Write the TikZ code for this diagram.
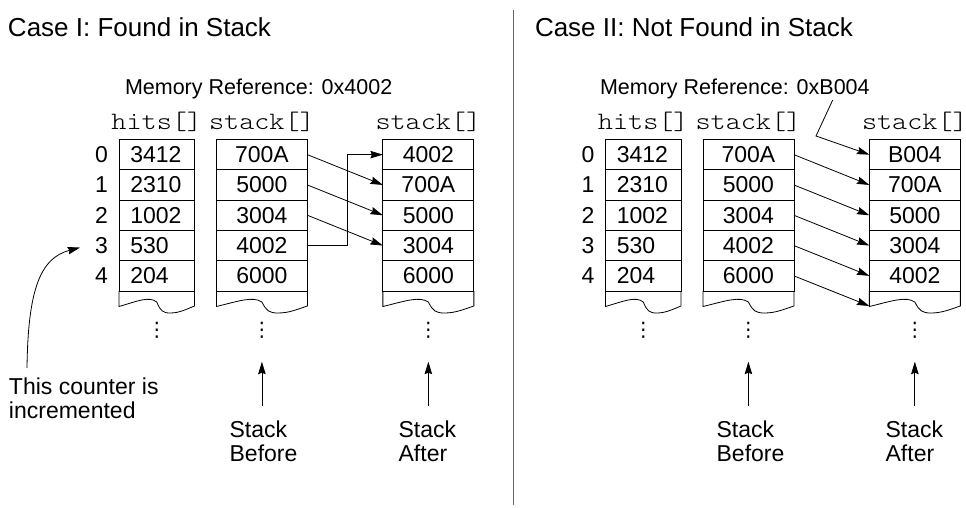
\documentclass[tikz,border=0pt]{standalone}
\usepackage{fontspec}
\setmainfont{Liberation Sans}
\newfontfamily\symfont{DejaVu Sans}
\newfontfamily\hdrfont{lmmonolt10-regular.otf}[FakeStretch=1.15]
\usetikzlibrary{arrows.meta,calc}
\begin{document}
\begin{tikzpicture}[x=1pt,y=-1pt,
  every node/.style={inner sep=0pt, outer sep=0pt},
  ln/.style={line width=0.8pt},
  arr/.style={line width=0.8pt,-{Stealth[length=12.5pt,width=7.5pt,inset=1.5pt]}},
  txt/.style={font=\fontsize{23}{24}\selectfont},
  ttl/.style={font=\fontsize{26}{30}\selectfont, anchor=base west},
  mref/.style={font=\fontsize{21.5}{24}\selectfont, anchor=base west},
  hdr/.style={font=\hdrfont\fontsize{25}{25}\selectfont, anchor=base},
  hcell/.style={draw, line width=0.8pt, minimum height=30.3pt, text width=53pt,
    align=left, inner xsep=11.25pt, font=\fontsize{23}{23}\selectfont},
  scell/.style={draw, line width=0.8pt, minimum height=30.3pt, minimum width=91pt,
    font=\fontsize{23}{23}\selectfont},
  idx/.style={font=\fontsize{23}{23}\selectfont},
  vdot/.style={font=\symfont\fontsize{20}{20}\selectfont},
  torn/.pic={\draw[line width=0.8pt] (0,0) -- (0,15.5)
     .. controls ({0.25*#1},10) and ({0.4*#1},5) .. ({0.5*#1},11)
     .. controls ({0.55*#1},20) and ({0.58*#1},22) .. ({0.68*#1},22)
     .. controls ({0.8*#1},22) and ({0.9*#1},18) .. ({#1},15) -- ({#1},0);}
]
\useasboundingbox (0,0) rectangle (966,508);

% titles
\node[ttl] (t1) at (8,37) {Case I: Found in Stack};
\node[ttl] (t2) at (535,37) {Case II: Not Found in Stack};
\coordinate (dv1) at (513,10);
\coordinate (dv2) at (513,505);
\draw[line width=0.8pt, black!60] (dv1) -- (dv2);

\node[mref] (m1) at (125,95) {Memory Reference: 0x4002};
\node[mref] (m2) at (600,95) {Memory Reference: 0xB004};

% headers
\node[hdr] (hh1) at (156.75,129) {hits[]};
\node[hdr] (hs1) at (261.9,129) {stack[]};
\node[hdr] (ha1) at (428.35,129) {stack[]};
\node[hdr] (hh2) at (643.25,129) {hits[]};
\node[hdr] (hs2) at (748.4,129) {stack[]};
\node[hdr] (ha2) at (914.85,129) {stack[]};

% cells
\foreach \i/\h/\b/\a/\ar in {0/3412/700A/4002/B004, 1/2310/5000/700A/700A,
    2/1002/3004/5000/5000, 3/530/4002/3004/3004, 4/204/6000/6000/4002} {
  \pgfmathsetmacro{\yy}{154.65+30.3*\i}
  \node[idx] (iL\i) at (101.5,\yy) {\i};
  \node[hcell] (hL\i) at (156.75,\yy) {\h};
  \node[scell] (bL\i) at (261.9,\yy) {\b};
  \node[scell] (aL\i) at (428.35,\yy) {\a};
  \node[idx] (iR\i) at (588,\yy) {\i};
  \node[hcell] (hR\i) at (643.25,\yy) {\h};
  \node[scell] (bR\i) at (748.4,\yy) {\b};
  \node[scell] (aR\i) at (914.85,\yy) {\ar};
}

% torn bottoms
\pic at (hL4.south west) {torn=75.5};
\pic at (bL4.south west) {torn=91};
\pic at (aL4.south west) {torn=91};
\pic at (hR4.south west) {torn=75.5};
\pic at (bR4.south west) {torn=91};
\pic at (aR4.south west) {torn=91};

% dots
\foreach \n/\x in {dh1/156.75, db1/261.9, da1/428.35, dh2/643.25, db2/748.4, da2/914.85}
  \node[vdot] (\n) at (\x,330) {⋮};

% case I arrows
\draw[arr] (bL0.east) -- (aL1.west);
\draw[arr] (bL1.east) -- (aL2.west);
\draw[arr] (bL2.east) -- (aL3.west);
\draw[arr] (bL3.east) -- ++(40,0) |- (aL0.west);

% case II arrows
\coordinate (a5R) at ($(aR4.south west)+(0,15)$);
\draw[arr] (bR0.east) -- (aR1.west);
\draw[arr] (bR1.east) -- (aR2.west);
\draw[arr] (bR2.east) -- (aR3.west);
\draw[arr] (bR3.east) -- (aR4.west);
\draw[arr] (bR4.east) -- (a5R);
\coordinate (mr1) at (832.7,100);
\coordinate (mr2) at (816,136);
\draw[arr] (mr1) -- (mr2) -- (aR0.west);

% counter note
\node[txt, align=left, anchor=north west] (cnt) at (9,378) {This counter is\\incremented};
\coordinate (ctip) at ($(iL3.west)+(-15,2)$);
\draw[arr] (27,368) .. controls (28,290) and (40,258) .. (ctip);

% stack before / after labels
\node[txt, align=left, anchor=north] (sbL) at (263.5,421) {Stack\\Before};
\node[txt, align=left, anchor=north] (saL) at (427.4,421) {Stack\\After};
\node[txt, align=left, anchor=north] (sbR) at (750.5,421) {Stack\\Before};
\node[txt, align=left, anchor=north] (saR) at (914.4,421) {Stack\\After};
\coordinate (sbLt) at (261.9,361.7);
\coordinate (saLt) at (428.35,361.7);
\coordinate (sbRt) at (748.4,361.7);
\coordinate (saRt) at (914.85,361.7);
\draw[arr] ($(sbLt |- sbL.north)+(0,-15)$) -- (sbLt);
\draw[arr] ($(saLt |- saL.north)+(0,-15)$) -- (saLt);
\draw[arr] ($(sbRt |- sbR.north)+(0,-15)$) -- (sbRt);
\draw[arr] ($(saRt |- saR.north)+(0,-15)$) -- (saRt);
\end{tikzpicture}
\end{document}
